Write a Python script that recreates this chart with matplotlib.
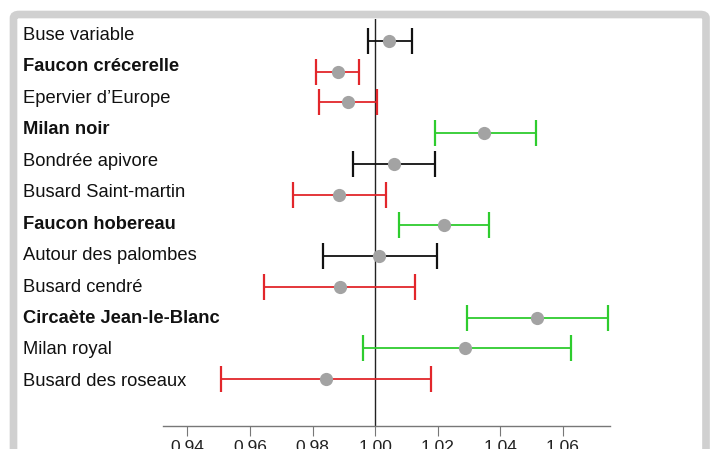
import matplotlib
matplotlib.use("Agg")
import matplotlib.pyplot as plt
from matplotlib.patches import FancyBboxPatch

plt.rcParams['font.family'] = ['Liberation Sans', 'DejaVu Sans']

species = ["Buse variable", "Faucon crécerelle", "Epervier d’Europe", "Milan noir",
           "Bondrée apivore", "Busard Saint-martin", "Faucon hobereau",
           "Autour des palombes", "Busard cendré", "Circaète Jean-le-Blanc",
           "Milan royal", "Busard des roseaux"]
bold = [False, True, False, True, False, False, True, False, False, True, False, False]
estimate = [1.0045, 0.9882, 0.9914, 1.0348, 1.0059, 0.9885, 1.0221, 1.0013, 0.9887, 1.0517, 1.0288, 0.9842]
lower = [0.9976, 0.9811, 0.9821, 1.0190, 0.9930, 0.9736, 1.0075, 0.9832, 0.9645, 1.0292, 0.9960, 0.9508]
upper = [1.0116, 0.9949, 1.0006, 1.0513, 1.0190, 1.0034, 1.0364, 1.0196, 1.0128, 1.0744, 1.0626, 1.0178]
trend = ["none", "down", "down", "up", "none", "down", "up", "none", "down", "up", "up", "down"]
ticks = [0.94, 0.96, 0.98, 1.00, 1.02, 1.04, 1.06]

colors = {"none": "#111111", "down": "#e2262b", "up": "#2ecc2e"}

W, H = 712, 449
fig = plt.figure(figsize=(W / 100, H / 100), dpi=100)

# frame
frame = FancyBboxPatch((13.5 / W, -0.2), (706 - 13.5) / W, (H - 14.5) / H + 0.2,
                       boxstyle="round,pad=0,rounding_size=0.008",
                       transform=fig.transFigure, facecolor="white",
                       edgecolor="#d0d0d0", linewidth=5.5, zorder=-5)
fig.patches.append(frame)

ax_left, ax_right = 163.3, 610
ax_top, ax_bot = 19, 426
ax = fig.add_axes([ax_left / W, (H - ax_bot) / H, (ax_right - ax_left) / W, (ax_bot - ax_top) / H])
ax.set_facecolor("none")
ax.set_zorder(2)

ax.set_xlim(0.9323, 1.075)
row0, step = 41, 30.73
ax.set_ylim((ax_bot - row0) / step, (ax_top - row0) / step)

ax.axvline(1.0, color="#222222", linewidth=1.0, zorder=1)

for i in range(len(species)):
    c = colors[trend[i]]
    ax.errorbar(estimate[i], i, xerr=[[estimate[i] - lower[i]], [upper[i] - estimate[i]]],
                fmt="none", ecolor=c, elinewidth=1.3, capsize=9.4, capthick=1.6, zorder=2)
    ax.plot(estimate[i], i, "o", color="#a3a3a3", markersize=9.5, markeredgewidth=0, zorder=3)

# row labels (baselines measured in pixels)
base0, lstep = 40, 31.45
for i, name in enumerate(species):
    fig.text(23.5 / W, (H - (base0 + lstep * i)) / H, name, ha="left", va="baseline",
             fontsize=13.2, fontweight="bold" if bold[i] else "normal", color="#111111")

for s in ["top", "right", "left"]:
    ax.spines[s].set_visible(False)
ax.spines["bottom"].set_color("#777777")
ax.spines["bottom"].set_linewidth(1.0)
ax.set_yticks([])
ax.set_xticks(ticks)
ax.set_xticklabels([f"{t:.2f}" for t in ticks])
ax.tick_params(axis="x", length=7, color="#777777", pad=3, labelsize=12.5, labelcolor="#222222")

fig.savefig("out.png", dpi=100)
